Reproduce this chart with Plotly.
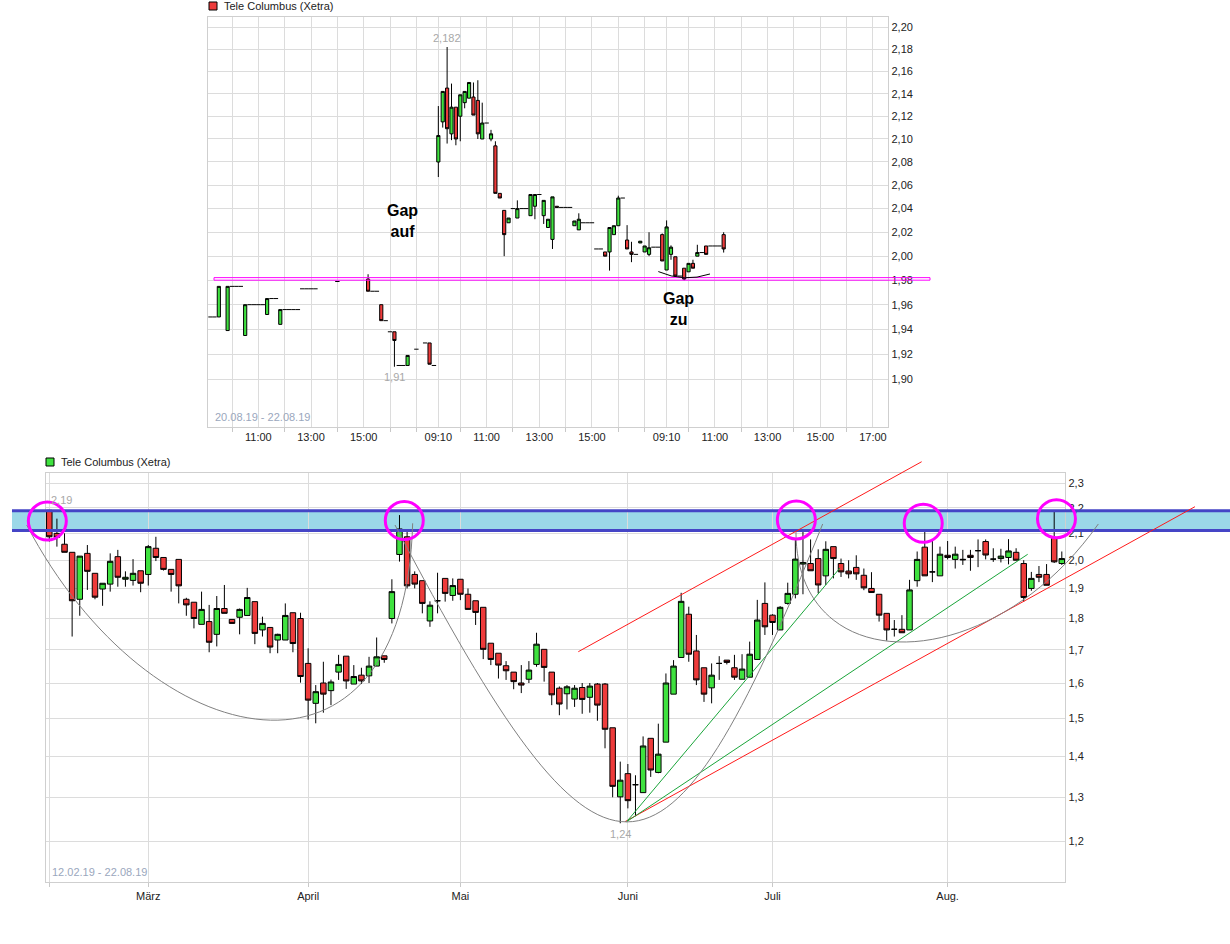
import math
import pandas as pd
import plotly.graph_objects as go

W, H = 1230, 944
FONT = "Liberation Sans, Arial, sans-serif"
GREEN = "#3fe23f"
RED = "#ee3b3b"
GRID = "#dcdcdc"
FRAME = "#cfcfcf"
TITLE = "Tele Columbus (Xetra)"

# ---------------- intraday 10-minute bars (time, open, high, low, close) ----------------
session_dates = ["2019-08-20", "2019-08-21", "2019-08-22"]

day1_bars = [
    ("09:10", 1.950, 1.950, 1.950, 1.950), ("09:20", 1.950, 1.950, 1.950, 1.950),
    ("09:30", 1.950, 1.975, 1.950, 1.975), ("09:50", 1.939, 1.975, 1.939, 1.975),
    ("10:00", 1.975, 1.975, 1.975, 1.975), ("10:10", 1.975, 1.975, 1.975, 1.975),
    ("10:20", 1.975, 1.975, 1.975, 1.975), ("10:30", 1.935, 1.960, 1.935, 1.960),
    ("10:40", 1.960, 1.960, 1.960, 1.960), ("10:50", 1.960, 1.960, 1.960, 1.960),
    ("11:00", 1.960, 1.960, 1.960, 1.960), ("11:10", 1.960, 1.960, 1.960, 1.960),
    ("11:20", 1.952, 1.965, 1.952, 1.965), ("11:30", 1.965, 1.965, 1.965, 1.965),
    ("11:40", 1.965, 1.965, 1.965, 1.965), ("11:50", 1.944, 1.956, 1.944, 1.956),
    ("12:00", 1.956, 1.956, 1.956, 1.956), ("12:10", 1.956, 1.956, 1.956, 1.956),
    ("12:20", 1.956, 1.956, 1.956, 1.956), ("12:30", 1.956, 1.956, 1.956, 1.956),
    ("12:40", 1.973, 1.973, 1.973, 1.973), ("12:50", 1.973, 1.973, 1.973, 1.973),
    ("13:00", 1.973, 1.973, 1.973, 1.973), ("13:10", 1.973, 1.973, 1.973, 1.973),
    ("14:00", 1.979, 1.979, 1.979, 1.979), ("15:10", 1.981, 1.985, 1.971, 1.971),
    ("15:20", 1.971, 1.971, 1.971, 1.971), ("15:30", 1.971, 1.971, 1.971, 1.971),
    ("15:40", 1.960, 1.960, 1.947, 1.947), ("15:50", 1.947, 1.947, 1.947, 1.947),
    ("16:00", 1.938, 1.938, 1.938, 1.938), ("16:10", 1.938, 1.938, 1.910, 1.931),
    ("16:20", 1.911, 1.911, 1.911, 1.911), ("16:30", 1.911, 1.911, 1.911, 1.911),
    ("16:40", 1.911, 1.919, 1.911, 1.919), ("17:00", 1.924, 1.924, 1.924, 1.924),
    ("17:20", 1.929, 1.929, 1.929, 1.929), ("17:30", 1.929, 1.929, 1.912, 1.912),
    ("17:40", 1.911, 1.911, 1.911, 1.911),
]

day2_bars = [
    ("09:10", 2.080, 2.129, 2.067, 2.103), ("09:20", 2.115, 2.142, 2.110, 2.142),
    ("09:30", 2.145, 2.182, 2.096, 2.109), ("09:40", 2.1045, 2.149, 2.099, 2.128),
    ("09:50", 2.128, 2.128, 2.0945, 2.100), ("10:00", 2.120, 2.139, 2.098, 2.139),
    ("10:10", 2.132, 2.142, 2.127, 2.142), ("10:20", 2.136, 2.150, 2.136, 2.150),
    ("10:30", 2.137, 2.150, 2.121, 2.121), ("10:40", 2.134, 2.152, 2.100, 2.1045),
    ("10:50", 2.100, 2.132, 2.100, 2.114), ("11:00", 2.114, 2.114, 2.114, 2.114),
    ("11:10", 2.100, 2.108, 2.098, 2.1045), ("11:20", 2.094, 2.098, 2.053, 2.053),
    ("11:30", 2.053, 2.053, 2.049, 2.049), ("11:40", 2.0385, 2.0385, 2.000, 2.018),
    ("11:50", 2.028, 2.032, 2.028, 2.032), ("12:00", 2.040, 2.040, 2.040, 2.040),
    ("12:10", 2.032, 2.047, 2.032, 2.040), ("12:20", 2.040, 2.040, 2.040, 2.040),
    ("12:30", 2.040, 2.040, 2.040, 2.040), ("12:40", 2.034, 2.052, 2.034, 2.052),
    ("12:50", 2.042, 2.052, 2.031, 2.052), ("13:00", 2.052, 2.052, 2.052, 2.052),
    ("13:10", 2.034, 2.047, 2.027, 2.047), ("13:20", 2.024, 2.031, 2.024, 2.031),
    ("13:30", 2.014, 2.050, 2.006, 2.050), ("13:40", 2.042, 2.042, 2.041, 2.041),
    ("13:50", 2.041, 2.041, 2.041, 2.041), ("14:00", 2.041, 2.041, 2.041, 2.041),
    ("14:10", 2.041, 2.041, 2.041, 2.041), ("14:20", 2.0255, 2.0295, 2.0255, 2.0295),
    ("14:30", 2.022, 2.036, 2.022, 2.031), ("14:40", 2.028, 2.028, 2.028, 2.028),
    ("14:50", 2.028, 2.028, 2.028, 2.028), ("15:00", 2.028, 2.028, 2.028, 2.028),
    ("15:10", 2.006, 2.006, 2.006, 2.006), ("15:20", 2.006, 2.006, 2.006, 2.006),
    ("15:30", 2.0035, 2.0035, 2.000, 2.000), ("15:40", 2.0035, 2.024, 1.988, 2.024),
    ("15:50", 2.018, 2.0255, 2.018, 2.0255), ("16:00", 2.0255, 2.051, 2.0255, 2.049),
    ("16:10", 2.049, 2.049, 2.049, 2.049), ("16:20", 2.0135, 2.026, 2.006, 2.006),
    ("16:30", 2.0035, 2.012, 1.995, 2.0015), ("16:40", 2.0015, 2.0015, 2.0015, 2.0015),
    ("16:50", 2.011, 2.0125, 2.011, 2.0125), ("17:00", 2.0035, 2.0085, 2.0035, 2.0085),
    ("17:10", 2.0015, 2.020, 2.000, 2.007), ("17:20", 2.0075, 2.0075, 2.0075, 2.0075),
    ("17:30", 2.0075, 2.0075, 2.0075, 2.0075), ("17:40", 2.018, 2.019, 1.996, 1.996),
]

day3_bars = [
    ("09:10", 1.9885, 2.030, 1.9885, 2.0245), ("09:20", 2.0015, 2.009, 1.997, 2.0075),
    ("09:30", 1.9995, 1.9995, 1.9835, 1.9835), ("09:40", 1.9835, 1.9835, 1.9835, 1.9835),
    ("09:50", 1.990, 1.990, 1.980, 1.981), ("10:00", 1.987, 1.994, 1.987, 1.994),
    ("10:10", 1.994, 1.997, 1.990, 1.990), ("10:20", 2.000, 2.0095, 2.000, 2.003),
    ("10:30", 2.003, 2.003, 2.003, 2.003), ("10:40", 2.0085, 2.0085, 2.0015, 2.0015),
    ("10:50", 2.0085, 2.0085, 2.0085, 2.0085), ("11:00", 2.0085, 2.0085, 2.0085, 2.0085),
    ("11:10", 2.0085, 2.0085, 2.0085, 2.0085), ("11:20", 2.018, 2.020, 2.003, 2.006),
]

# axis labels of the intraday chart: (session, clock) pairs
intraday_labels = [(0, "11:00"), (0, "13:00"), (0, "15:00"),
                   (1, "09:10"), (1, "11:00"), (1, "13:00"), (1, "15:00"),
                   (2, "09:10"), (2, "11:00"), (2, "13:00"), (2, "15:00"), (2, "17:00")]
intraday_grid_only = [(0, f"{h}:00") for h in (10, 12, 14, 16, 17)] + \
                     [(1, f"{h}:00") for h in (10, 12, 14, 16, 17)] + \
                     [(2, f"{h}:00") for h in (10, 12, 14, 16)]

# gap zone between the close of 20.08. and the low of 22.08.
gap_zone = (1.9801, 1.9822)

# ---------------- daily bars 12.02.19 - 22.08.19 (open, high, low, close) ----------------
feb_bars = [
    (2.190, 2.190, 2.069, 2.087), (2.100, 2.157, 2.050, 2.085), (2.059, 2.100, 2.029, 2.029),
    (2.029, 2.029, 1.741, 1.858), (1.863, 2.015, 1.808, 2.015), (2.025, 2.056, 1.895, 1.960),
    (1.953, 1.953, 1.863, 1.870), (1.898, 1.918, 1.841, 1.918), (1.915, 2.025, 1.889, 1.996),
    (2.013, 2.038, 1.906, 1.939), (1.932, 1.960, 1.906, 1.939), (1.928, 2.004, 1.910, 1.953),
    (1.962, 1.962, 1.887, 1.918),
]
mar_bars = [
    (1.949, 2.056, 1.910, 2.050), (2.044, 2.087, 1.997, 2.010), (2.010, 2.010, 1.963, 1.967),
    (1.967, 1.967, 1.889, 1.949), (2.003, 2.003, 1.849, 1.909), (1.863, 1.868, 1.808, 1.844),
    (1.853, 1.853, 1.767, 1.799), (1.780, 1.889, 1.780, 1.829), (1.789, 1.844, 1.692, 1.723),
    (1.748, 1.874, 1.710, 1.832), (1.832, 1.912, 1.816, 1.816), (1.796, 1.796, 1.783, 1.783),
    (1.803, 1.832, 1.748, 1.829), (1.809, 1.902, 1.809, 1.869), (1.855, 1.855, 1.717, 1.751),
    (1.762, 1.805, 1.741, 1.783), (1.770, 1.770, 1.689, 1.708), (1.730, 1.750, 1.689, 1.748),
    (1.730, 1.849, 1.730, 1.809), (1.818, 1.818, 1.692, 1.719), (1.799, 1.818, 1.601, 1.619),
]
apr_bars = [
    (1.658, 1.704, 1.497, 1.551), (1.542, 1.594, 1.487, 1.575), (1.600, 1.663, 1.516, 1.568),
    (1.578, 1.610, 1.537, 1.603), (1.632, 1.684, 1.609, 1.655), (1.680, 1.680, 1.583, 1.606),
    (1.597, 1.653, 1.597, 1.619), (1.623, 1.645, 1.597, 1.606), (1.621, 1.678, 1.600, 1.650),
    (1.650, 1.738, 1.650, 1.678), (1.681, 1.681, 1.660, 1.670), (1.799, 1.932, 1.783, 1.889),
    (2.021, 2.171, 1.995, 2.117), (2.087, 2.107, 1.900, 1.909), (1.949, 1.960, 1.900, 1.915),
    (1.927, 1.927, 1.816, 1.849), (1.791, 1.856, 1.772, 1.843), (1.858, 1.955, 1.816, 1.858),
    (1.935, 1.935, 1.855, 1.883), (1.876, 1.935, 1.858, 1.910),
]
may_bars = [
    (1.932, 1.932, 1.860, 1.880), (1.880, 1.900, 1.829, 1.829), (1.858, 1.858, 1.778, 1.819),
    (1.836, 1.836, 1.671, 1.701), (1.720, 1.720, 1.653, 1.670), (1.689, 1.689, 1.613, 1.653),
    (1.651, 1.665, 1.609, 1.636), (1.632, 1.632, 1.582, 1.604), (1.600, 1.653, 1.571, 1.594),
    (1.611, 1.665, 1.600, 1.638), (1.655, 1.753, 1.648, 1.717), (1.701, 1.701, 1.604, 1.646),
    (1.632, 1.632, 1.537, 1.566), (1.585, 1.590, 1.509, 1.540), (1.569, 1.594, 1.525, 1.589),
    (1.554, 1.594, 1.532, 1.585), (1.587, 1.600, 1.513, 1.553), (1.559, 1.600, 1.516, 1.591),
    (1.597, 1.600, 1.494, 1.537), (1.597, 1.600, 1.421, 1.471), (1.475, 1.475, 1.300, 1.326),
    (1.301, 1.387, 1.240, 1.341),
]
jun_bars = [
    (1.357, 1.381, 1.274, 1.292), (1.330, 1.353, 1.256, 1.330), (1.311, 1.452, 1.311, 1.427),
    (1.447, 1.447, 1.349, 1.366), (1.360, 1.486, 1.358, 1.406), (1.437, 1.628, 1.437, 1.600),
    (1.568, 1.668, 1.568, 1.650), (1.676, 1.885, 1.676, 1.856), (1.813, 1.838, 1.663, 1.686),
    (1.696, 1.746, 1.594, 1.609), (1.645, 1.645, 1.546, 1.568), (1.586, 1.658, 1.542, 1.623),
    (1.658, 1.680, 1.609, 1.658), (1.668, 1.668, 1.655, 1.661), (1.645, 1.684, 1.609, 1.617),
    (1.611, 1.686, 1.611, 1.641), (1.617, 1.725, 1.617, 1.686), (1.670, 1.861, 1.670, 1.794),
    (1.849, 1.921, 1.746, 1.772),
]
jul_bars = [
    (1.810, 1.813, 1.746, 1.786), (1.762, 1.840, 1.762, 1.836), (1.849, 1.920, 1.845, 1.883),
    (1.880, 2.081, 1.866, 2.004), (1.986, 2.113, 1.880, 1.992), (1.988, 2.077, 1.962, 1.962),
    (2.006, 2.040, 1.883, 1.912), (1.944, 2.070, 1.912, 2.040), (2.050, 2.050, 1.935, 2.006),
    (1.988, 2.006, 1.940, 1.958), (1.961, 2.000, 1.935, 1.951), (1.974, 2.018, 1.930, 1.951),
    (1.946, 1.970, 1.894, 1.902), (1.900, 1.957, 1.886, 1.886), (1.880, 1.880, 1.789, 1.810),
    (1.816, 1.816, 1.728, 1.762), (1.764, 1.794, 1.741, 1.764), (1.764, 1.810, 1.753, 1.753),
    (1.762, 1.930, 1.762, 1.895), (1.927, 2.032, 1.906, 2.003), (2.048, 2.107, 1.944, 1.944),
    (1.958, 2.071, 1.922, 1.958), (1.944, 2.050, 1.944, 2.022),
]
aug_bars = [
    (2.018, 2.071, 2.003, 2.010), (2.003, 2.050, 1.970, 2.022), (2.001, 2.038, 1.983, 2.003),
    (2.018, 2.038, 1.962, 2.010), (2.035, 2.077, 1.975, 2.035), (2.069, 2.077, 2.003, 2.019),
    (2.004, 2.044, 1.994, 2.004), (2.006, 2.042, 1.992, 2.015), (2.010, 2.078, 1.985, 2.034),
    (2.029, 2.044, 2.000, 2.000), (1.988, 2.000, 1.855, 1.869), (1.900, 1.958, 1.892, 1.935),
    (1.949, 1.979, 1.922, 1.939), (1.949, 1.986, 1.911, 1.911), (2.081, 2.185, 1.990, 1.994),
    (1.988, 2.032, 1.983, 2.006),
]
month_names = ["März", "April", "Mai", "Juni", "Juli", "Aug."]
exchange_holidays = ["2019-04-19", "2019-04-22", "2019-05-01", "2019-06-10"]

# resistance zone and trend lines of the daily chart (bar index, price)
resistance_zone = (2.1114, 2.1883)
touch_points = [(-0.26, 2.1477), (46.63, 2.1497), (98.13, 2.1517), (114.8, 2.1388), (132.3, 2.1567)]
red_lines = [((69.49, 1.6937), (114.59, 2.392)), ((75.62, 1.2436), (150.49, 2.2043))]
green_lines = [((75.84, 1.2436), (103.86, 1.972)), ((75.84, 1.2436), (128.52, 2.0217))]
bowl_curves = [
    [(-2.97, 2.1322), (13.23, 1.3911), (46.72, 1.2703), (47.73, 2.1388)],
    [(45.41, 2.1322), (72.73, 1.0382), (80.62, 1.0382), (101.59, 2.1361)],
    [(98.08, 2.1053), (98.08, 1.6088), (123.30, 1.6088), (137.8, 2.1361)],
]
gap_close_curve = [(17.185, 1.9872), (18.161, 1.9780), (19.147, 1.9852)]

# ---------------- derived series ----------------
SLOTS_PER_SESSION = 52  # 09:00 .. 17:40 in 10-minute steps
SLOT = 1 / 6.0          # one 10-minute bar, in hours


def session_hours(day, clock):
    h, m = map(int, clock.split(":"))
    return (day * SLOTS_PER_SESSION + ((h - 9) * 60 + m) // 10) / 6.0


# bars with a real range go into the candlestick trace; single-price bars
# are drawn as flat ticks that span the full 10-minute slot
ix, io, ih, il, ic = [], [], [], [], []
flat_x, flat_y = [], []
for d, bars in enumerate([day1_bars, day2_bars, day3_bars]):
    for t, o, hi, lo, c in bars:
        x = session_hours(d, t)
        if o == hi == lo == c:
            flat_x += [x - SLOT / 2, x + SLOT / 2, None]
            flat_y += [c, c, None]
        else:
            ix.append(x)
            io.append(o); ih.append(hi); il.append(lo); ic.append(c)

daily = feb_bars + mar_bars + apr_bars + may_bars + jun_bars + jul_bars + aug_bars
dates = pd.bdate_range("2019-02-12", "2019-08-22", freq="C", holidays=exchange_holidays)
assert len(dates) == len(daily)
dx = list(range(len(daily)))
do = [b[0] for b in daily]
dh = [b[1] for b in daily]
dl = [b[2] for b in daily]
dc = [b[3] for b in daily]
month_starts = [i for i in range(1, len(dates)) if dates[i].month != dates[i - 1].month]

# ---------------- layout geometry ----------------
TOP_XDOM = (208.3 / W, 888.3 / W)
TOP_XR = (0.100, 25.917)
TOP_YDOM = (1 - 426.7 / H, 1 - 16.7 / H)
TOP_YR = (math.log10(1.8629), math.log10(2.2097))
BOT_XDOM = (45.7 / W, 1065.3 / W)
BOT_XR = (-0.473, 133.46)
BOT_YDOM = (1 - 882.0 / H, 1 - 472.7 / H)
BOT_YR = (math.log10(1.11447), math.log10(2.3448))


def lin(v, rng, dom):
    return dom[0] + (v - rng[0]) / (rng[1] - rng[0]) * (dom[1] - dom[0])


def tpx(x): return lin(x, TOP_XR, TOP_XDOM)
def tpy(p): return lin(math.log10(p), TOP_YR, TOP_YDOM)
def bpx(x): return lin(x, BOT_XR, BOT_XDOM)
def bpy(p): return lin(math.log10(p), BOT_YR, BOT_YDOM)


def fmt(v):
    return f"{v:g}".replace(".", ",")


fig = go.Figure()
candle_style = dict(
    increasing=dict(fillcolor=GREEN, line=dict(color="black", width=1)),
    decreasing=dict(fillcolor=RED, line=dict(color="black", width=1)),
    whiskerwidth=0, showlegend=False, hoverinfo="skip",
)
fig.add_trace(go.Candlestick(x=ix, open=io, high=ih, low=il, close=ic,
                             xaxis="x", yaxis="y", **candle_style))
fig.add_trace(go.Scatter(x=flat_x, y=flat_y, mode="lines", line=dict(color="black", width=1),
                         xaxis="x", yaxis="y", showlegend=False, hoverinfo="skip"))
fig.add_trace(go.Candlestick(x=dx, open=do, high=dh, low=dl, close=dc,
                             xaxis="x2", yaxis="y2", **candle_style))

top_tickvals = [session_hours(d, t) for d, t in intraday_labels]
top_ticktext = [t for _, t in intraday_labels]
top_minor = [session_hours(d, t) for d, t in intraday_grid_only]
top_yvals = [round(1.90 + 0.02 * k, 2) for k in range(16)]
bot_yvals = [round(1.2 + 0.1 * k, 1) for k in range(12)]

axis_common = dict(showgrid=True, gridcolor=GRID, gridwidth=1, showline=True, mirror=True,
                   linecolor=FRAME, linewidth=1, zeroline=False, fixedrange=True,
                   tickfont=dict(family=FONT, size=11, color="#222"))

fig.update_layout(
    width=W, height=H, margin=dict(l=0, r=0, t=0, b=0), autosize=False,
    paper_bgcolor="white", plot_bgcolor="rgba(0,0,0,0)",
    showlegend=False, boxgap=0.28, boxgroupgap=0,
    font=dict(family=FONT, size=11, color="#222"),
    xaxis=dict(domain=TOP_XDOM, range=TOP_XR, anchor="y", rangeslider=dict(visible=False),
               tickmode="array", tickvals=top_tickvals, ticktext=top_ticktext, ticks="",
               minor=dict(tickmode="array", tickvals=top_minor, showgrid=True, gridcolor=GRID,
                          ticks="outside", ticklen=4, tickcolor="#c8c8c8"),
               **axis_common),
    yaxis=dict(domain=TOP_YDOM, range=TOP_YR, type="log", anchor="x", side="right",
               tickmode="array", tickvals=top_yvals,
               ticktext=[f"{v:.2f}".replace(".", ",") for v in top_yvals], ticks="",
               **axis_common),
    xaxis2=dict(domain=BOT_XDOM, range=BOT_XR, anchor="y2", rangeslider=dict(visible=False),
                tickmode="array", tickvals=[0] + month_starts, ticktext=[""] + month_names,
                ticks="outside", ticklen=4, tickcolor="#c8c8c8", **axis_common),
    yaxis2=dict(domain=BOT_YDOM, range=BOT_YR, type="log", anchor="x2", side="right",
                tickmode="array", tickvals=bot_yvals,
                ticktext=[f"{v:.1f}".replace(".", ",") for v in bot_yvals], ticks="",
                **axis_common),
)

shapes = []
# resistance zone
z0, z1 = resistance_zone
shapes.append(dict(type="rect", xref="paper", yref="paper", x0=12 / W, x1=1.0,
                   y0=bpy(z0), y1=bpy(z1), fillcolor="#9bd8e8", line=dict(width=0), layer="below"))
for p in resistance_zone:
    shapes.append(dict(type="line", xref="paper", yref="paper", x0=12 / W, x1=1.0,
                       y0=bpy(p), y1=bpy(p), line=dict(color="#4545c6", width=3)))
# trend lines
for (a, b), col in [(l, "#ff1a1a") for l in red_lines] + [(l, "#1aa53a") for l in green_lines]:
    shapes.append(dict(type="line", xref="paper", yref="paper",
                       x0=bpx(a[0]), y0=bpy(a[1]), x1=bpx(b[0]), y1=bpy(b[1]),
                       line=dict(color=col, width=1)))
# rounded bottoms
for pts in bowl_curves:
    (x0, y0), (x1, y1), (x2, y2), (x3, y3) = [(bpx(i), bpy(p)) for i, p in pts]
    shapes.append(dict(type="path", xref="paper", yref="paper",
                       path=f"M {x0},{y0} C {x1},{y1} {x2},{y2} {x3},{y3}",
                       line=dict(color="#808080", width=1)))
# touches of the resistance zone
for i, p in touch_points:
    cx, cy = bpx(i), bpy(p)
    shapes.append(dict(type="circle", xref="paper", yref="paper",
                       x0=cx - 19 / W, x1=cx + 19 / W, y0=cy - 19 / H, y1=cy + 19 / H,
                       line=dict(color="#ff00ff", width=3)))
# gap zone on the intraday chart
shapes.append(dict(type="rect", xref="paper", yref="paper", x0=tpx(0.317), x1=930 / W,
                   y0=tpy(gap_zone[0]), y1=tpy(gap_zone[1]), line=dict(color="#ff00ff", width=1)))
(q0, q1, q2) = [(tpx(x), tpy(p)) for x, p in gap_close_curve]
shapes.append(dict(type="path", xref="paper", yref="paper",
                   path=f"M {q0[0]},{q0[1]} Q {q1[0]},{q1[1]} {q2[0]},{q2[1]}",
                   line=dict(color="black", width=1)))
# legend squares
for (x0, y0), col in [((209, 2), RED), ((46, 458), GREEN)]:
    shapes.append(dict(type="rect", xref="paper", yref="paper",
                       x0=x0 / W, x1=(x0 + 8) / W, y0=1 - (y0 + 8) / H, y1=1 - y0 / H,
                       fillcolor=col, line=dict(color="black", width=1)))
fig.update_layout(shapes=shapes)

ann = []
txt = dict(family=FONT, size=11, color="#222")
ann.append(dict(xref="paper", yref="paper", x=222 / W, y=1 - 6 / H, xanchor="left", yanchor="middle",
                text=TITLE, showarrow=False, font=txt))
ann.append(dict(xref="paper", yref="paper", x=59 / W, y=1 - 462 / H, xanchor="left", yanchor="middle",
                text=TITLE, showarrow=False, font=txt))
rng_col = dict(family=FONT, size=11, color="#9aa7bd")
s0, s1 = pd.Timestamp(session_dates[0]), pd.Timestamp(session_dates[-1])
ann.append(dict(xref="paper", yref="paper", x=213 / W, y=1 - 417 / H, xanchor="left", yanchor="middle",
                text=f"{s0:%d.%m.%y} - {s1:%d.%m.%y}", showarrow=False, font=rng_col))
ann.append(dict(xref="paper", yref="paper", x=50 / W, y=1 - 872 / H, xanchor="left", yanchor="middle",
                text=f"{dates[0]:%d.%m.%y} - {dates[-1]:%d.%m.%y}", showarrow=False, font=rng_col))

mark_col = dict(family=FONT, size=11, color="#a8a8a8")
k_hi = max(range(len(ih)), key=lambda k: ih[k])
k_lo = min(range(len(il)), key=lambda k: il[k])
ann.append(dict(xref="x", yref="y", x=ix[k_hi], y=math.log10(ih[k_hi]), yanchor="bottom", yshift=1,
                text=fmt(ih[k_hi]), showarrow=False, font=mark_col))
ann.append(dict(xref="x", yref="y", x=ix[k_lo], y=math.log10(il[k_lo]), yanchor="top", yshift=-2,
                text=fmt(il[k_lo]), showarrow=False, font=mark_col))
d_hi = max(dx, key=lambda k: dh[k])
d_lo = min(dx, key=lambda k: dl[k])
ann.append(dict(xref="x2", yref="y2", x=d_hi, y=math.log10(dh[d_hi]), xanchor="left", yanchor="bottom",
                yshift=2, text=fmt(dh[d_hi]), showarrow=False, font=mark_col))
ann.append(dict(xref="x2", yref="y2", x=d_lo, y=math.log10(dl[d_lo]), yanchor="top", yshift=-3,
                text=fmt(dl[d_lo]), showarrow=False, font=mark_col))

gap_font = dict(family=FONT, size=16, color="black")
ann.append(dict(xref="x", yref="y", x=7.454, y=math.log10(2.0296), text="<b>Gap<br>auf</b>",
                showarrow=False, font=gap_font))
ann.append(dict(xref="x", yref="y", x=17.95, y=math.log10(1.9561), text="<b>Gap<br>zu</b>",
                showarrow=False, font=gap_font))
fig.update_layout(annotations=ann)

fig.write_html("out.html")
